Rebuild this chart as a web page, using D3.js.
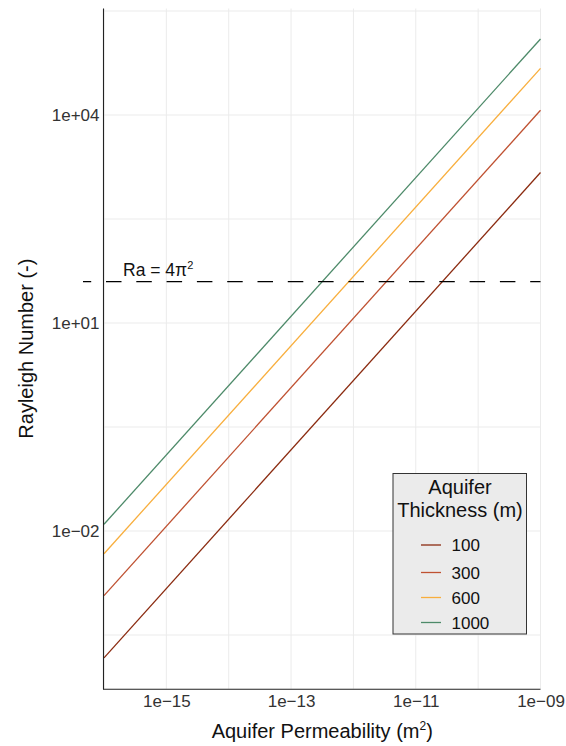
<!DOCTYPE html>
<html>
<head>
<meta charset="utf-8">
<script src="https://cdn.jsdelivr.net/npm/d3@7"></script>
<style>
  html, body { margin: 0; padding: 0; background: #fff; }
  svg { display: block; font-family: "Liberation Sans", Arial, Helvetica, sans-serif; }
</style>
</head>
<body>
<svg id="chart" width="566" height="746"></svg>
<script>
// ---- data ----
const thicknessLabels = ["100", "300", "600", "1000"];
const seriesColors = ["#8B2B10", "#BF5131", "#F8AE3D", "#4D8A69"];
const permeability = [1e-16, 1e-9];                // m^2, ends of each line
const ra100  = [1.48e-4, 1.48e3];
const ra300  = [1.17e-3, 1.17e4];
const ra600  = [4.7e-3, 4.7e4];
const ra1000 = [1.25e-2, 1.25e5];
const raCritical = 4 * Math.PI * Math.PI;          // Ra = 4π²
const xTicks = [1e-15, 1e-13, 1e-11, 1e-9];
const xTickLabels = ["1e\u221215", "1e\u221213", "1e\u221211", "1e\u221209"];
const xMinor = [1e-16, 1e-14, 1e-12, 1e-10];
const yTicks = [1e-2, 1e1, 1e4];
const yTickLabels = ["1e\u221202", "1e+01", "1e+04"];
const yMinor = [Math.pow(10, -3.5), Math.pow(10, -0.5), Math.pow(10, 2.5), Math.pow(10, 5.5)];

const seriesValues = [ra100, ra300, ra600, ra1000];

(function () {
// ---- layout ----
const pLeft = 104, pRight = 540.5, pTop = 8.5, pBottom = 688.8;
const svg = d3.select("#chart");

const x = d3.scaleLog().domain([1e-16, 1e-9]).range([pLeft, pRight]);
const yDomLo = Math.pow(10, -4.276), yDomHi = Math.pow(10, 5.536);
const y = d3.scaleLog().domain([yDomLo, yDomHi]).range([pBottom, pTop]);

// grid
const grid = svg.append("g");
grid.selectAll("line.gx").data(xTicks.concat(xMinor)).enter().append("line")
  .attr("x1", d => x(d)).attr("x2", d => x(d))
  .attr("y1", pTop).attr("y2", pBottom)
  .attr("stroke", "#EBEBEB").attr("stroke-width", 1);
grid.selectAll("line.gy").data(yTicks.concat(yMinor)).enter().append("line")
  .attr("x1", pLeft).attr("x2", pRight)
  .attr("y1", d => y(d)).attr("y2", d => y(d))
  .attr("stroke", "#EBEBEB").attr("stroke-width", 1);

// lines
const line = d3.line().x(d => x(d[0])).y(d => y(d[1]));
seriesValues.forEach((vals, i) => {
  const pts = permeability.map((k, j) => [k, vals[j]]);
  svg.append("path").attr("d", line(pts))
    .attr("fill", "none").attr("stroke", seriesColors[i]).attr("stroke-width", 1.3);
});

// critical Rayleigh dashed line
svg.append("line")
  .attr("x1", 83).attr("x2", pRight)
  .attr("y1", y(raCritical)).attr("y2", y(raCritical))
  .attr("stroke", "#000").attr("stroke-width", 1.2)
  .attr("stroke-dasharray", "15.5,14.8").attr("stroke-dashoffset", 7.3);

const ann = svg.append("text").attr("x", 123).attr("y", 276)
  .attr("font-size", 17.5).attr("fill", "#111");
ann.append("tspan").text("Ra = 4\u03c0");
ann.append("tspan").attr("dy", -7).attr("font-size", 11).text("2");

// axes (labels only)
const xAxis = d3.axisBottom(x).tickValues(xTicks)
  .tickFormat((d, i) => xTickLabels[i]).tickSize(0).tickPadding(0);
const gx = svg.append("g").attr("transform", `translate(0,${pBottom})`).call(xAxis);
gx.select(".domain").remove();
gx.selectAll("text").attr("font-size", 17).attr("fill", "#333")
  .attr("font-family", "Liberation Sans, Arial, sans-serif")
  .attr("dy", null).attr("y", 18);

const yAxis = d3.axisLeft(y).tickValues(yTicks)
  .tickFormat((d, i) => yTickLabels[i]).tickSize(0).tickPadding(0);
const gy = svg.append("g").attr("transform", `translate(${pLeft - 4.5},0)`).call(yAxis);
gy.select(".domain").remove();
gy.selectAll("text").attr("font-size", 17).attr("fill", "#333")
  .attr("font-family", "Liberation Sans, Arial, sans-serif");

// axis lines
svg.append("line").attr("x1", pLeft - 0.5).attr("x2", pLeft - 0.5)
  .attr("y1", pTop).attr("y2", pBottom + 0.5)
  .attr("stroke", "#222").attr("stroke-width", 1.1);
svg.append("line").attr("x1", pLeft - 1).attr("x2", pRight)
  .attr("y1", pBottom + 0.5).attr("y2", pBottom + 0.5)
  .attr("stroke", "#222").attr("stroke-width", 1.1);

// axis titles
const xt = svg.append("text").attr("x", (pLeft + pRight) / 2).attr("y", 738)
  .attr("text-anchor", "middle").attr("font-size", 20).attr("fill", "#111");
xt.append("tspan").text("Aquifer Permeability (m");
xt.append("tspan").attr("dy", -8).attr("font-size", 12).text("2");
xt.append("tspan").attr("dy", 8).text(")");

svg.append("text")
  .attr("transform", `translate(33,${(pTop + pBottom) / 2}) rotate(-90)`)
  .attr("text-anchor", "middle").attr("font-size", 20).attr("fill", "#111")
  .text("Rayleigh Number (-)");

// legend
const lg = svg.append("g");
lg.append("rect").attr("x", 393).attr("y", 473.5).attr("width", 133.5).attr("height", 160.5)
  .attr("fill", "#EBEBEB").attr("stroke", "#333").attr("stroke-width", 1);
lg.append("text").attr("x", 460).attr("y", 493.5).attr("text-anchor", "middle")
  .attr("font-size", 20).attr("fill", "#111").text("Aquifer");
lg.append("text").attr("x", 460).attr("y", 517).attr("text-anchor", "middle")
  .attr("font-size", 20).attr("fill", "#111").text("Thickness (m)");
const itemY = [545, 572.5, 597.5, 622.5];
thicknessLabels.forEach((lab, i) => {
  lg.append("line").attr("x1", 421).attr("x2", 441)
    .attr("y1", itemY[i]).attr("y2", itemY[i])
    .attr("stroke", seriesColors[i]).attr("stroke-width", 1.3);
  lg.append("text").attr("x", 451.5).attr("y", itemY[i] + 6)
    .attr("font-size", 17).attr("fill", "#111").text(lab);
});
})();
</script>
</body>
</html>
